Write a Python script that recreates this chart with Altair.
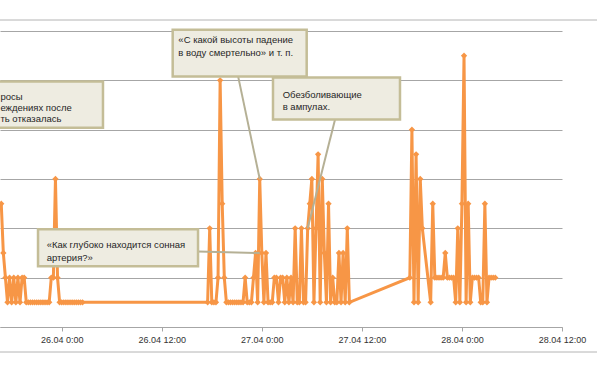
import altair as alt
import pandas as pd

# ---- series: counts per 15-minute bucket (each segment = consecutive buckets) ----
seg_starts = ["2012-04-25 16:45", "2012-04-26 17:30", "2012-04-27 17:45", "2012-04-27 20:15"]
seg_values = [
    [5, 3, 2, 1, 2, 1, 2, 1, 2, 1, 2, 2, 1,
     1, 1, 1, 1, 1, 1, 1, 1, 1, 1, 1,
     2, 2, 6, 2, 1,
     1, 1, 1, 1, 1, 1, 1, 1, 1, 1, 1],
    [1, 4, 1, 1, 1, 2, 10, 5, 2, 1,
     1, 1, 1, 1, 1, 1, 1, 1, 2, 1,
     1, 1, 2, 3, 1, 6, 3, 1, 3, 1,
     1, 1, 2, 2, 1, 2, 2, 1, 2, 1,
     2, 1, 4, 1, 1, 4, 1, 1, 4, 5,
     6, 1, 4, 7, 1, 6, 3, 1, 5, 1,
     2, 1, 1, 3, 1, 3, 1, 4, 1],
    [2, 8, 1, 7, 1, 6, 4],
    [1, 5, 2, 2, 2, 2, 2, 3, 2, 2, 2, 2, 1, 4, 1, 5, 11, 1, 5, 1,
     2, 2, 2, 2, 1, 1, 5, 1, 2, 2, 2, 2],
]

# ---- callouts (hours after 26.04 0:00, value units) ----
box_h0 = [-8.2, 13.31, 25.34, -2.84]
box_h1 = [4.95, 29.38, 40.57, 16.35]
box_v0 = [9.95, 12.05, 10.11, 3.96]
box_v1 = [8.08, 10.16, 8.41, 2.46]

text_lines = ["росы", "еждениях после", "ть отказалась",
              "«С какой высоты падение", "в воду смертельно» и т. п.",
              "Обезболивающие", "в ампулах.",
              "«Как глубоко находится сонная", "артерия?»"]
text_h = [-7.35, -7.35, -7.35, 13.99, 13.99, 26.5, 26.5, -1.8, -1.8]
text_v = [9.34, 8.89, 8.45, 11.62, 11.11, 9.42, 8.92, 3.32, 2.81]

lead_h0 = [21.17, 32.78, 16.35]
lead_v0 = [10.14, 8.41, 3.06]
lead_h1 = [23.75, 29.5, 23.75]
lead_v1 = [6, 4, 3]

# ---- build tables ----
frames = []
for s, vals in zip(seg_starts, seg_values):
    t = pd.date_range(s, periods=len(vals), freq="15min")
    frames.append(pd.DataFrame({"t": t, "n": vals}))
series = pd.concat(frames, ignore_index=True)
series["t"] = series["t"].dt.strftime("%Y-%m-%dT%H:%M:%S")

base = pd.Timestamp("2012-04-26 00:00")


def ts(hours):
    return [(base + pd.Timedelta(hours=h)).strftime("%Y-%m-%dT%H:%M:%S") for h in hours]


boxes = pd.DataFrame({"t0": ts(box_h0), "t1": ts(box_h1), "v0": box_v0, "v1": box_v1})
texts = pd.DataFrame({"t": ts(text_h), "v": text_v, "s": text_lines})
leads = pd.DataFrame({"t0": ts(lead_h0), "t1": ts(lead_h1), "v0": lead_v0, "v1": lead_v1})

ORANGE = "#F79646"
GRID = "#A6A6A6"
FONT = "Liberation Sans"

x_scale = alt.Scale(domain=[alt.DateTime(year=2012, month=4, date=25, hours=16, minutes=36),
                            alt.DateTime(year=2012, month=4, date=28, hours=12)])
y_scale = alt.Scale(domain=[0, 12], nice=False)

tick_vals = [alt.DateTime(year=2012, month=4, date=d, hours=h)
             for d in (26, 27, 28) for h in (0, 12)]

x_axis = alt.Axis(values=tick_vals, format="%d.%m %-H:%M", title=None, grid=False,
                  domainColor=GRID, tickColor=GRID, tickSize=4, labelPadding=4,
                  labelFont=FONT, labelFontSize=9, labelColor="#333333",
                  labelFlush=False, labelOverlap=False)
y_axis = alt.Axis(values=[0, 2, 4, 6, 8, 10, 12], grid=True, gridColor=GRID, gridWidth=1,
                  labels=False, ticks=False, domain=False, title=None)

line = alt.Chart(series).mark_line(
    color=ORANGE, strokeWidth=3, clip=True,
    point=alt.OverlayMarkDef(shape="diamond", size=40, filled=True, color=ORANGE),
).encode(
    x=alt.X("t:T", scale=x_scale, axis=x_axis),
    y=alt.Y("n:Q", scale=y_scale, axis=y_axis),
)

top_border = alt.Chart(pd.DataFrame({"k": [0]})).mark_rule(color="#B4B4B4", strokeWidth=1).encode(
    x=alt.value(0), x2=alt.value(597), y=alt.value(-11),
)
bottom_border = alt.Chart(pd.DataFrame({"k": [0]})).mark_rule(color="#B4B4B4", strokeWidth=1).encode(
    x=alt.value(0), x2=alt.value(597), y=alt.value(321),
)

leaders = alt.Chart(leads).mark_rule(color="#B5B095", strokeWidth=2, clip=False).encode(
    x=alt.X("t0:T", scale=x_scale, axis=x_axis), x2="t1:T",
    y=alt.Y("v0:Q", scale=y_scale, axis=y_axis), y2="v1:Q",
)

rects = alt.Chart(boxes).mark_rect(fill="#EEECE1", stroke="#C4BD97", strokeWidth=2.5, clip=False).encode(
    x=alt.X("t0:T", scale=x_scale, axis=x_axis), x2="t1:T",
    y=alt.Y("v0:Q", scale=y_scale, axis=y_axis), y2="v1:Q",
)

labels = alt.Chart(texts).mark_text(align="left", baseline="middle", font=FONT, fontSize=9.5,
                                     color="#262626", clip=False).encode(
    x=alt.X("t:T", scale=x_scale, axis=x_axis),
    y=alt.Y("v:Q", scale=y_scale, axis=y_axis),
    text="s:N",
)

chart = alt.layer(line, leaders, rects, labels, top_border, bottom_border).properties(
    width=562, height=296,
    autosize=alt.AutoSizeParams(type="none"),
    padding={"left": 0, "top": 31, "right": 38, "bottom": 49},
    background="white",
).configure_view(stroke=None)

chart.save("out.html", embed_options={"renderer": "svg", "actions": False})
